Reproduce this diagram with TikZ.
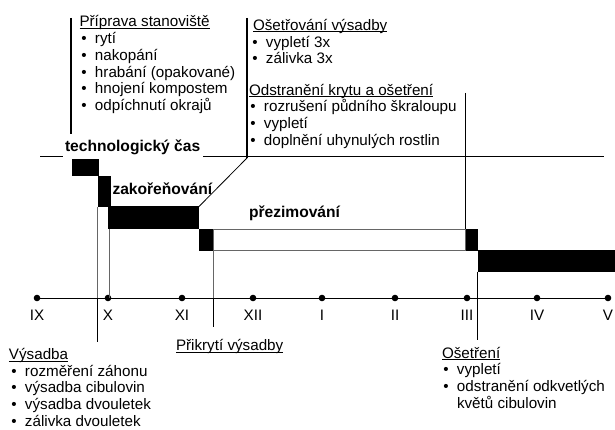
\documentclass[tikz,border=0pt]{standalone}
\usepackage{fontspec}
\setmainfont{Liberation Sans}
\newsavebox\ulbox
\newcommand\ulx[1]{\sbox\ulbox{#1}\rlap{\rule[-1.9pt]{\wd\ulbox}{0.9pt}}\usebox\ulbox}
\newcommand\itm[1]{\llap{•\hspace{8.2pt}}#1}
\begin{document}
\begin{tikzpicture}[x=1pt,y=-1pt,
  txt/.style={anchor=base west,inner sep=0pt,outer sep=0pt,font=\fontsize{15.2}{16.7}\selectfont},
  btxt/.style={txt,font=\fontsize{15.6}{16.7}\selectfont\bfseries},
  gry/.style={draw=black!60,line width=1pt},
  thk/.style={draw=black,line width=1.5pt},
  thn/.style={draw=black,line width=0.8pt}]
\useasboundingbox (0,0) rectangle (615,430);

% black bars
\fill (71.5,159) rectangle (98.5,176.5);
\fill (97.7,176) rectangle (110.7,207);
\fill (108,206.5) rectangle (199,229.5);
\fill (199,229) rectangle (213.7,250.5);
\draw[gry] (213.7,229.5) rectangle (465.5,250);
\fill (465.5,229) rectangle (477.7,250.5);
\fill (477.7,249.5) rectangle (615,271.7);

% axis
\draw[thn] (37,298) -- (608,298);
\foreach \r/\x [count=\i] in {IX/37,X/108,XI/182,XII/253,I/322,II/395,III/467,IV/537,V/608}
{
  \fill (\x,298) circle (3.3);
  \node[txt,anchor=base] (m\i) at (\x,320.5) {\r};
}

% vertical drop lines
\draw[gry] (97.7,207) -- (97.7,298);
\draw[thk] (97.7,298) -- (97.7,342);
\draw[gry] (109,229.5) -- (109,298);
\draw[gry] (213.3,250.5) -- (213.3,298);
\draw[thk] (213.3,298) -- (213.3,327);
\draw[thn] (477.5,271.7) -- (477.5,298);
\draw[thk] (477.5,298) -- (477.5,340);

% top lines
\draw[thk] (71,18) -- (71,134);
\draw[thk] (247,18) -- (247,158);
\draw[thn] (247,158) -- (199,206.5);
\draw[thn] (465.7,93) -- (465.7,229);
\draw[thn] (40,156.5) -- (63,156.5);
\draw[thn] (203,156.5) -- (604,156.5);

% bold labels
\node[btxt] (tc) at (65,151.5) {technologický čas};
\node[btxt] (zk) at (112.5,194.5) {zakořeňování};
\node[btxt] (pz) at (249,217.5) {přezimování};

% Priprava stanoviste
\node[txt] (p0) at (79.5,27) {\ulx{Příprava stanoviště}};
\foreach \t [count=\i] in {rytí,nakopání,hrabání (opakované),hnojení kompostem,odpíchnutí okrajů}
  \node[txt] (p\i) at ({95},{27+16.7*\i}) {\itm{\t}};

% Osetrovani vysadby
\node[txt] (o0) at (253,30.5) {\ulx{Ošetřování výsadby}};
\foreach \t [count=\i] in {vypletí 3x,zálivka 3x}
  \node[txt] (o\i) at ({266},{30.5+16.7*\i}) {\itm{\t}};

% Odstraneni krytu
\node[txt] (d0) at (249,95.3) {\ulx{Odstranění krytu a ošetření}};
\foreach \t [count=\i] in {rozrušení půdního škraloupu,vypletí,doplnění uhynulých rostlin}
  \node[txt] (d\i) at ({264},{95.3+16.7*\i}) {\itm{\t}};

% Vysadba
\node[txt] (v0) at (9,359.5) {\ulx{Výsadba}};
\foreach \t [count=\i] in {rozměření záhonu,výsadba cibulovin,výsadba dvouletek,zálivka dvouletek}
  \node[txt] (v\i) at ({25},{359.5+16.7*\i}) {\itm{\t}};

% Prikryti vysadby
\node[txt] (pk) at (176,350.5) {\ulx{Přikrytí výsadby}};

% Osetreni
\node[txt] (s0) at (442,358) {\ulx{Ošetření}};
\node[txt] (s1) at (457,374.7) {\itm{vypletí}};
\node[txt] (s2) at (457,391.4) {\itm{odstranění odkvetlých}};
\node[txt] (s3) at (457,408.1) {květů cibulovin};
\end{tikzpicture}
\end{document}
